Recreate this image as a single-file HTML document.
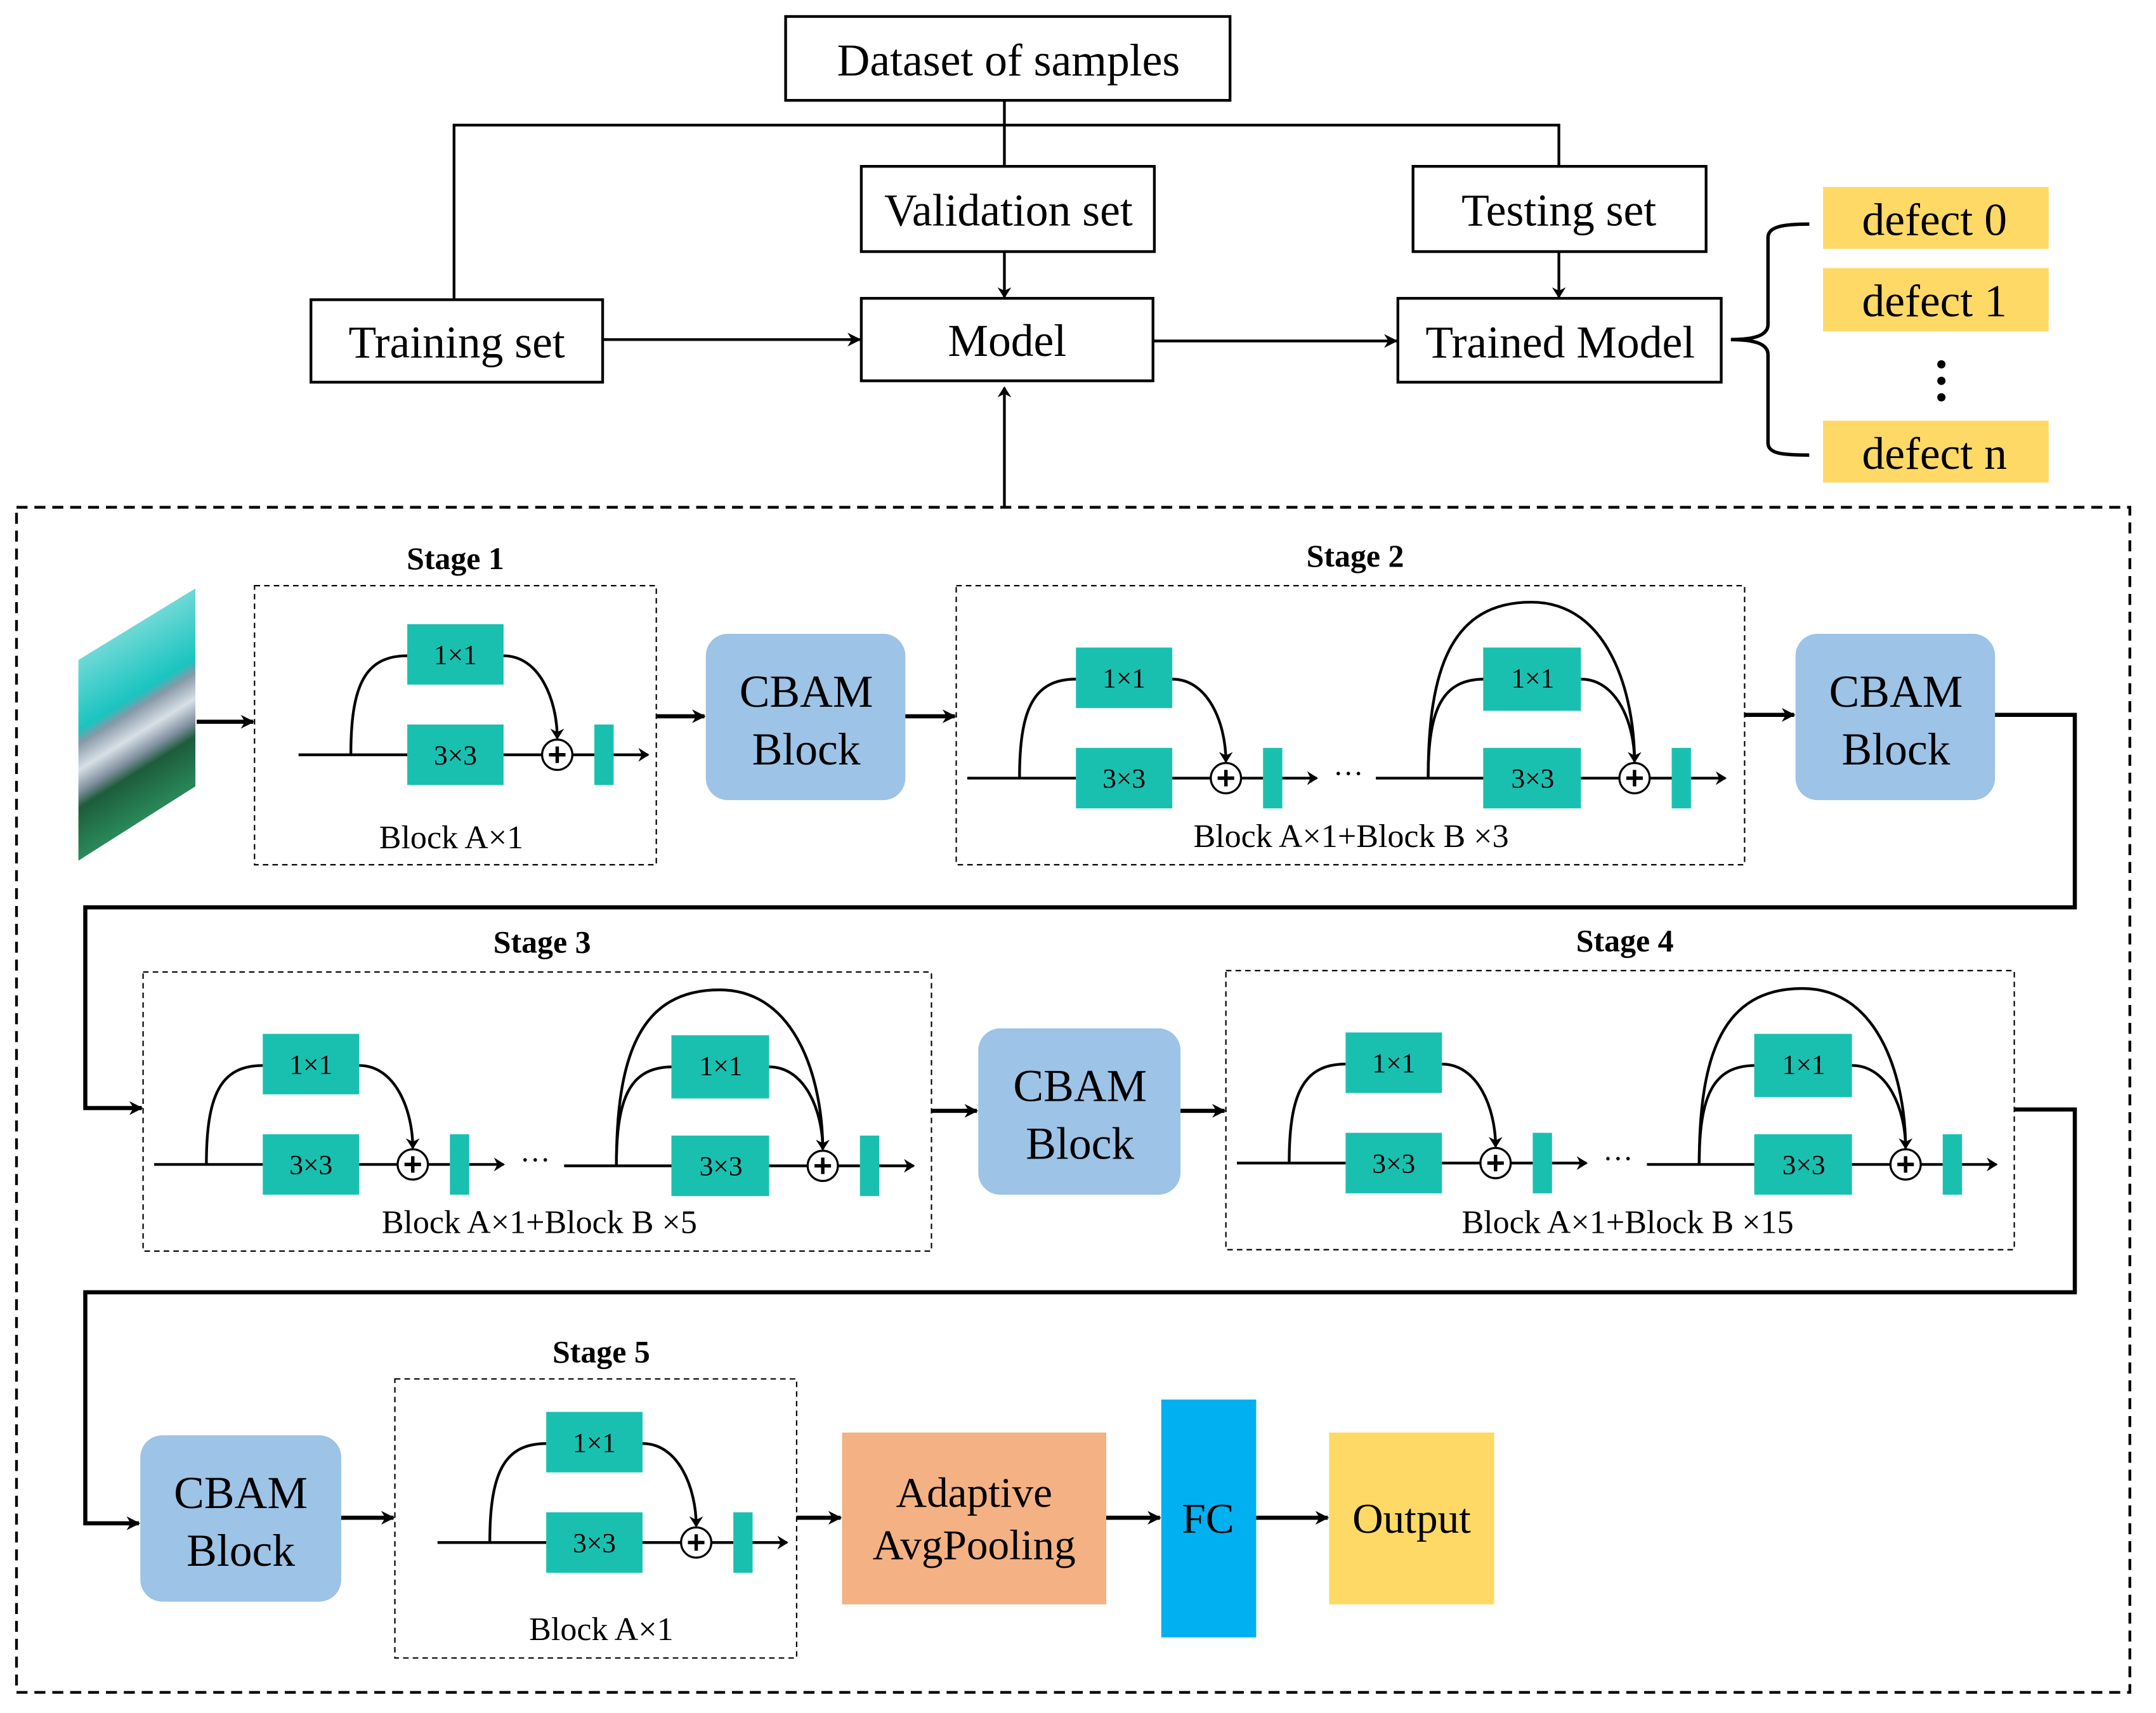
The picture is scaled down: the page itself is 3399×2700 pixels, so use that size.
<!DOCTYPE html>
<html><head><meta charset="utf-8"><style>html,body{margin:0;padding:0;background:#fff}svg{display:block}</style></head>
<body>
<svg width="3399" height="2700" viewBox="0 0 1567 1246" preserveAspectRatio="none" xmlns="http://www.w3.org/2000/svg" font-family="Liberation Serif, serif">
<defs>
<marker id="ah" markerWidth="10" markerHeight="10" refX="9" refY="5" orient="auto" markerUnits="userSpaceOnUse"><path d="M0,0 L10,5 L0,10 L3,5 z" fill="#000"/></marker>
<marker id="as" markerWidth="8" markerHeight="10" refX="7" refY="5" orient="auto" markerUnits="userSpaceOnUse"><path d="M0,0 L8,5 L0,10 L2.5,5 z" fill="#000"/></marker>
<linearGradient id="img" gradientUnits="userSpaceOnUse" x1="57" y1="480" x2="122" y2="586">
<stop offset="0" stop-color="#6fd9d6"/><stop offset="0.35" stop-color="#1ac4c0"/><stop offset="0.42" stop-color="#8898a8"/><stop offset="0.55" stop-color="#d8e0e6"/><stop offset="0.66" stop-color="#8090a0"/><stop offset="0.74" stop-color="#1d5c3c"/><stop offset="1" stop-color="#2a8a5a"/></linearGradient>
</defs>

<g fill="none" stroke="#000" stroke-width="2">
<rect x="571" y="12" width="323" height="61"/>
<rect x="626" y="121" width="213" height="62"/>
<rect x="1027" y="121" width="213" height="62"/>
<rect x="226" y="218" width="212" height="60"/>
<rect x="626" y="217" width="212" height="60"/>
<rect x="1016" y="217" width="235" height="61"/>
<path d="M330,218 V91 H1133 V121 M730,73 V121"/>
<path d="M730,183 V216" marker-end="url(#as)"/>
<path d="M1133,183 V216" marker-end="url(#as)"/>
<path d="M438,247 H625" marker-end="url(#ah)"/>
<path d="M838,248 H1015" marker-end="url(#ah)"/>
<path d="M730,369 V282" marker-end="url(#as)"/>
<path d="M1258,247 C1275,247 1285,244 1285,236 V173 C1285,165 1295,163 1315,163 M1258,247 C1275,247 1285,250 1285,258 V322 C1285,330 1295,331 1315,331" stroke-width="2.5"/>
</g>
<g font-size="33" text-anchor="middle">
<text x="733" y="55">Dataset of samples</text>
<text x="733" y="164">Validation set</text>
<text x="1133" y="164">Testing set</text>
<text x="332" y="260">Training set</text>
<text x="732" y="259">Model</text>
<text x="1134" y="260">Trained Model</text>
</g>
<g fill="#ffd966"><rect x="1325" y="136" width="164" height="45"/><rect x="1325" y="195" width="164" height="46"/><rect x="1325" y="306" width="164" height="45"/></g>
<g font-size="33" text-anchor="middle"><text x="1406" y="171">defect 0</text><text x="1406" y="230">defect 1</text><text x="1406" y="341">defect n</text></g>
<g fill="#000"><circle cx="1411" cy="265" r="3"/><circle cx="1411" cy="277" r="3"/><circle cx="1411" cy="289" r="3"/></g>

<rect x="12" y="369" width="1536" height="862" fill="none" stroke="#000" stroke-width="2" stroke-dasharray="8,5"/>
<g fill="none" stroke="#000" stroke-width="1" stroke-dasharray="4,3">
<rect x="185" y="426" width="292" height="203"/>
<rect x="695" y="426" width="573" height="203"/>
<rect x="104" y="707" width="573" height="203"/>
<rect x="891" y="706" width="573" height="203"/>
<rect x="287" y="1003" width="292" height="203"/>
</g>
<g font-size="23" font-weight="bold" text-anchor="middle">
<text x="331" y="414">Stage 1</text><text x="985" y="412">Stage 2</text><text x="394" y="693">Stage 3</text><text x="1181" y="692">Stage 4</text><text x="437" y="991">Stage 5</text>
</g>
<g font-size="24" text-anchor="middle">
<text x="328" y="617">Block A×1</text>
<text x="982" y="616">Block A×1+Block B  ×3</text>
<text x="392" y="897">Block A×1+Block B  ×5</text>
<text x="1183" y="897">Block A×1+Block B  ×15</text>
<text x="437" y="1193">Block A×1</text>
</g>

<polygon points="57,480 142,428 142,572 57,626" fill="url(#img)"/>

<g fill="#9dc3e6"><rect x="513" y="461" width="145" height="121" rx="16"/><rect x="1305" y="461" width="145" height="121" rx="16"/><rect x="711" y="748" width="147" height="121" rx="16"/><rect x="102" y="1044" width="146" height="121" rx="16"/></g>
<g font-size="33" text-anchor="middle">
<text x="586" y="514">CBAM</text><text x="586" y="556">Block</text>
<text x="1378" y="514">CBAM</text><text x="1378" y="556">Block</text>
<text x="785" y="801">CBAM</text><text x="785" y="843">Block</text>
<text x="175" y="1097">CBAM</text><text x="175" y="1139">Block</text>
</g>
<rect x="612" y="1042" width="192" height="125" fill="#f4b183"/>
<rect x="844" y="1018" width="69" height="173" fill="#00b0f0"/>
<rect x="966" y="1042" width="120" height="125" fill="#ffd966"/>
<g font-size="31" text-anchor="middle"><text x="708" y="1096">Adaptive</text><text x="708" y="1134">AvgPooling</text><text x="878" y="1115">FC</text><text x="1026" y="1115">Output</text></g>

<g fill="none" stroke="#000" stroke-width="3">
<path d="M143,525 H184" marker-end="url(#ah)"/>
<path d="M477,521 H512" marker-end="url(#ah)"/>
<path d="M658,521 H694" marker-end="url(#ah)"/>
<path d="M1268,520 H1304" marker-end="url(#ah)"/>
<path d="M1450,520 H1508 V660 H62 V806 H103" marker-end="url(#ah)"/>
<path d="M677,808 H710" marker-end="url(#ah)"/>
<path d="M858,808 H890" marker-end="url(#ah)"/>
<path d="M1464,807 H1508 V940 H62 V1108 H101" marker-end="url(#ah)"/>
<path d="M248,1104 H286" marker-end="url(#ah)"/>
<path d="M579,1104 H611" marker-end="url(#ah)"/>
<path d="M804,1104 H843" marker-end="url(#ah)"/>
<path d="M913,1104 H965" marker-end="url(#ah)"/>
</g>

<g transform="translate(217,549)">
<g fill="none" stroke="#000" stroke-width="2"><path d="M0,0 H79 M149,0 H177 M199,0 H215"/><path d="M229,0 H254" marker-end="url(#as)"/><path d="M38,0 C38,-50 48,-72 79,-72"/><path d="M149,-72 C175,-72 188,-40 188,-12" marker-end="url(#as)"/><circle cx="188" cy="0" r="11" stroke-width="1.5"/><path d="M182,0 H194 M188,-6 V6" stroke-width="2.5"/></g>
<rect x="79" y="-22" width="70" height="44" fill="#19c0b0"/><rect x="79" y="-95" width="70" height="44" fill="#19c0b0"/><rect x="215" y="-22" width="14" height="44" fill="#19c0b0"/>
<g font-size="20" text-anchor="middle"><text x="114" y="7">3×3</text><text x="114" y="-66">1×1</text></g>
</g>
<g transform="translate(703,566)">
<g fill="none" stroke="#000" stroke-width="2"><path d="M0,0 H79 M149,0 H177 M199,0 H215"/><path d="M229,0 H254" marker-end="url(#as)"/><path d="M38,0 C38,-50 48,-72 79,-72"/><path d="M149,-72 C175,-72 188,-40 188,-12" marker-end="url(#as)"/><circle cx="188" cy="0" r="11" stroke-width="1.5"/><path d="M182,0 H194 M188,-6 V6" stroke-width="2.5"/></g>
<rect x="79" y="-22" width="70" height="44" fill="#19c0b0"/><rect x="79" y="-95" width="70" height="44" fill="#19c0b0"/><rect x="215" y="-22" width="14" height="44" fill="#19c0b0"/>
<g font-size="20" text-anchor="middle"><text x="114" y="7">3×3</text><text x="114" y="-66">1×1</text></g>
<text x="277" y="4" font-size="22" text-anchor="middle">···</text>
</g>
<g transform="translate(1000,566)">
<g fill="none" stroke="#000" stroke-width="2"><path d="M0,0 H79 M149,0 H177 M199,0 H215"/><path d="M229,0 H254" marker-end="url(#as)"/><path d="M38,0 C38,-50 48,-72 79,-72"/><path d="M149,-72 C175,-72 188,-40 188,-12" marker-end="url(#as)"/><path d="M38,0 C38,-80 55,-128 113,-128 C170,-128 188,-60 188,-12"/><circle cx="188" cy="0" r="11" stroke-width="1.5"/><path d="M182,0 H194 M188,-6 V6" stroke-width="2.5"/></g>
<rect x="78" y="-22" width="71" height="44" fill="#19c0b0"/><rect x="78" y="-95" width="71" height="46" fill="#19c0b0"/><rect x="215" y="-22" width="14" height="44" fill="#19c0b0"/>
<g font-size="20" text-anchor="middle"><text x="114" y="7">3×3</text><text x="114" y="-66">1×1</text></g>
</g>
<g transform="translate(112,847)">
<g fill="none" stroke="#000" stroke-width="2"><path d="M0,0 H79 M149,0 H177 M199,0 H215"/><path d="M229,0 H254" marker-end="url(#as)"/><path d="M38,0 C38,-50 48,-72 79,-72"/><path d="M149,-72 C175,-72 188,-40 188,-12" marker-end="url(#as)"/><circle cx="188" cy="0" r="11" stroke-width="1.5"/><path d="M182,0 H194 M188,-6 V6" stroke-width="2.5"/></g>
<rect x="79" y="-22" width="70" height="44" fill="#19c0b0"/><rect x="79" y="-95" width="70" height="44" fill="#19c0b0"/><rect x="215" y="-22" width="14" height="44" fill="#19c0b0"/>
<g font-size="20" text-anchor="middle"><text x="114" y="7">3×3</text><text x="114" y="-66">1×1</text></g>
<text x="277" y="4" font-size="22" text-anchor="middle">···</text>
</g>
<g transform="translate(410,848)">
<g fill="none" stroke="#000" stroke-width="2"><path d="M0,0 H79 M149,0 H177 M199,0 H215"/><path d="M229,0 H254" marker-end="url(#as)"/><path d="M38,0 C38,-50 48,-72 79,-72"/><path d="M149,-72 C175,-72 188,-40 188,-12" marker-end="url(#as)"/><path d="M38,0 C38,-80 55,-128 113,-128 C170,-128 188,-60 188,-12"/><circle cx="188" cy="0" r="11" stroke-width="1.5"/><path d="M182,0 H194 M188,-6 V6" stroke-width="2.5"/></g>
<rect x="78" y="-22" width="71" height="44" fill="#19c0b0"/><rect x="78" y="-95" width="71" height="46" fill="#19c0b0"/><rect x="215" y="-22" width="14" height="44" fill="#19c0b0"/>
<g font-size="20" text-anchor="middle"><text x="114" y="7">3×3</text><text x="114" y="-66">1×1</text></g>
</g>
<g transform="translate(899,846)">
<g fill="none" stroke="#000" stroke-width="2"><path d="M0,0 H79 M149,0 H177 M199,0 H215"/><path d="M229,0 H254" marker-end="url(#as)"/><path d="M38,0 C38,-50 48,-72 79,-72"/><path d="M149,-72 C175,-72 188,-40 188,-12" marker-end="url(#as)"/><circle cx="188" cy="0" r="11" stroke-width="1.5"/><path d="M182,0 H194 M188,-6 V6" stroke-width="2.5"/></g>
<rect x="79" y="-22" width="70" height="44" fill="#19c0b0"/><rect x="79" y="-95" width="70" height="44" fill="#19c0b0"/><rect x="215" y="-22" width="14" height="44" fill="#19c0b0"/>
<g font-size="20" text-anchor="middle"><text x="114" y="7">3×3</text><text x="114" y="-66">1×1</text></g>
<text x="277" y="4" font-size="22" text-anchor="middle">···</text>
</g>
<g transform="translate(1197,847)">
<g fill="none" stroke="#000" stroke-width="2"><path d="M0,0 H79 M149,0 H177 M199,0 H215"/><path d="M229,0 H254" marker-end="url(#as)"/><path d="M38,0 C38,-50 48,-72 79,-72"/><path d="M149,-72 C175,-72 188,-40 188,-12" marker-end="url(#as)"/><path d="M38,0 C38,-80 55,-128 113,-128 C170,-128 188,-60 188,-12"/><circle cx="188" cy="0" r="11" stroke-width="1.5"/><path d="M182,0 H194 M188,-6 V6" stroke-width="2.5"/></g>
<rect x="78" y="-22" width="71" height="44" fill="#19c0b0"/><rect x="78" y="-95" width="71" height="46" fill="#19c0b0"/><rect x="215" y="-22" width="14" height="44" fill="#19c0b0"/>
<g font-size="20" text-anchor="middle"><text x="114" y="7">3×3</text><text x="114" y="-66">1×1</text></g>
</g>
<g transform="translate(318,1122)">
<g fill="none" stroke="#000" stroke-width="2"><path d="M0,0 H79 M149,0 H177 M199,0 H215"/><path d="M229,0 H254" marker-end="url(#as)"/><path d="M38,0 C38,-50 48,-72 79,-72"/><path d="M149,-72 C175,-72 188,-40 188,-12" marker-end="url(#as)"/><circle cx="188" cy="0" r="11" stroke-width="1.5"/><path d="M182,0 H194 M188,-6 V6" stroke-width="2.5"/></g>
<rect x="79" y="-22" width="70" height="44" fill="#19c0b0"/><rect x="79" y="-95" width="70" height="44" fill="#19c0b0"/><rect x="215" y="-22" width="14" height="44" fill="#19c0b0"/>
<g font-size="20" text-anchor="middle"><text x="114" y="7">3×3</text><text x="114" y="-66">1×1</text></g>
</g>
</svg>
</body></html>
